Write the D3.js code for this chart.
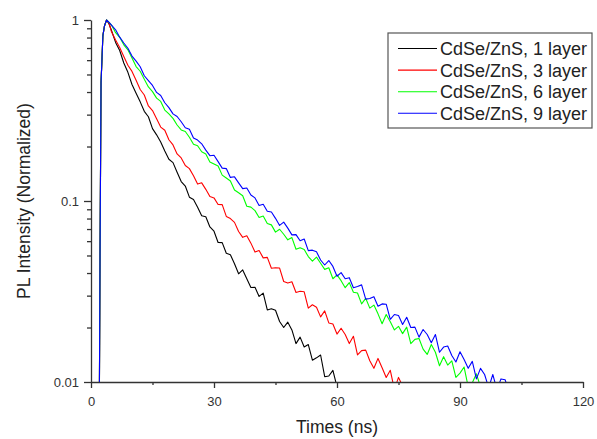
<!DOCTYPE html>
<html><head><meta charset="utf-8">
<script src="https://cdn.jsdelivr.net/npm/d3@7"></script>
<style>
body{margin:0;background:#fff}
svg{display:block}
text{font-family:Arial,"Liberation Sans",sans-serif}
</style>
</head><body>
<svg id="chart" width="597" height="439"></svg>
<script>
// ---- data ----
const times = [1.5, 2.0, 2.2, 2.45, 2.9, 3.3, 3.8, 4.4,
  5,6,7,8,9,10,11,12,13,14,15,16,17,18,19,20,21,22,23,24,25,26,27,28,29,30,
  31,32,33,34,35,36,37,38,39,40,41,42,43,44,45,46,47,48,49,50,51,52,53,54,55,
  56,57,58,59,60,61,62,63,64,65,66,67,68,69,70,71,72,73,74,75,76,77,78,79,80,
  81,82,83,84,85,86,87,88,89,90,91,92,93,94,95,96,97,98,99,100,101,102];

const seriesNames = ["CdSe/ZnS, 1 layer", "CdSe/ZnS, 3 layer", "CdSe/ZnS, 6 layer", "CdSe/ZnS, 9 layer"];
const seriesColors = ["#000000", "#ff0000", "#00ff00", "#0000ff"];

const layer1 = [0.002, 0.005, 0.05, 0.45, 0.82, 0.93, 1.0, 0.95,
  0.875, 0.752, 0.678, 0.579, 0.514, 0.440, 0.394, 0.353, 0.313, 0.292,
  0.251, 0.232, 0.212, 0.189, 0.170, 0.163, 0.144, 0.128, 0.121, 0.105,
  0.102, 0.0923, 0.0828, 0.0818, 0.0719, 0.0681, 0.0590, 0.0589, 0.0514, 0.0505,
  0.0450, 0.0396, 0.0416, 0.0372, 0.0333, 0.0334, 0.0297, 0.0310, 0.0250, 0.0254,
  0.0249, 0.0216, 0.0200, 0.0214, 0.0194, 0.0163, 0.0177, 0.0156, 0.0161, 0.0132,
  0.0136, 0.0141, 0.0107, 0.0108, 0.0116, 0.0094, 0.0095];

const layer3 = [0.002, 0.005, 0.05, 0.45, 0.82, 0.93, 1.0, 0.96,
  0.861, 0.776, 0.705, 0.628, 0.562, 0.520, 0.465, 0.413, 0.385, 0.335,
  0.316, 0.285, 0.256, 0.246, 0.218, 0.204, 0.182, 0.173, 0.157, 0.151,
  0.138, 0.124, 0.126, 0.116, 0.106, 0.104, 0.0957, 0.0955, 0.0822, 0.080,
  0.0762, 0.0678, 0.0630, 0.0643, 0.0585, 0.0522, 0.0533, 0.0485, 0.0488, 0.0425,
  0.0428, 0.0426, 0.0359, 0.0352, 0.0358, 0.0312, 0.0317, 0.0315, 0.0256, 0.0267,
  0.0259, 0.0229, 0.0247, 0.0212, 0.0209, 0.0184, 0.0198, 0.0183, 0.0163, 0.0179,
  0.0141, 0.0149, 0.0150, 0.0131, 0.0119, 0.0135, 0.0120, 0.0106, 0.0116, 0.0091,
  0.0106, 0.0095];

const layer6 = [0.002, 0.005, 0.05, 0.45, 0.82, 0.93, 1.0, 0.97,
  0.938, 0.851, 0.802, 0.729, 0.684, 0.617, 0.553, 0.521, 0.470, 0.427,
  0.402, 0.370, 0.355, 0.318, 0.303, 0.286, 0.263, 0.247, 0.242, 0.225,
  0.206, 0.202, 0.187, 0.182, 0.164, 0.160, 0.156, 0.139, 0.134, 0.129,
  0.115, 0.111, 0.107, 0.0935, 0.0925, 0.0885, 0.0811, 0.0826, 0.0752, 0.0738,
  0.0673, 0.0698, 0.0655, 0.0610, 0.0628, 0.0541, 0.0552, 0.0540, 0.0493, 0.0465,
  0.0490, 0.0453, 0.0419, 0.0428, 0.0372, 0.0391, 0.0363, 0.0332, 0.0354, 0.0313,
  0.0310, 0.0270, 0.0290, 0.0256, 0.0266, 0.0238, 0.0210, 0.0236, 0.0215, 0.0194,
  0.0203, 0.0185, 0.0201, 0.0163, 0.0172, 0.0174, 0.0152, 0.0142, 0.0161, 0.0146,
  0.0123, 0.0138, 0.0124, 0.0131, 0.0106, 0.0112, 0.0121, 0.0094, 0.0099, 0.0111,
  0.0094, 0.0098];

const layer9 = [0.002, 0.005, 0.05, 0.45, 0.82, 0.93, 1.0, 0.97,
  0.936, 0.883, 0.804, 0.746, 0.698, 0.632, 0.593, 0.552, 0.492, 0.463,
  0.435, 0.398, 0.383, 0.349, 0.328, 0.303, 0.293, 0.274, 0.254, 0.249,
  0.223, 0.217, 0.207, 0.191, 0.178, 0.179, 0.165, 0.152, 0.151, 0.135,
  0.136, 0.126, 0.117, 0.118, 0.108, 0.104, 0.0944, 0.0959, 0.0877, 0.0869,
  0.0802, 0.0733, 0.0764, 0.0708, 0.0650, 0.0652, 0.0603, 0.0617, 0.0532, 0.0535,
  0.0524, 0.0472, 0.0443, 0.0469, 0.0435, 0.0384, 0.0402, 0.0372, 0.0377, 0.0332,
  0.0337, 0.0344, 0.0287, 0.0289, 0.0296, 0.0262, 0.0270, 0.0269, 0.0222, 0.0236,
  0.0233, 0.0208, 0.0228, 0.0200, 0.0201, 0.0177, 0.0195, 0.0183, 0.0165, 0.0183,
  0.0146, 0.0156, 0.0158, 0.0140, 0.0129, 0.0147, 0.0133, 0.0119, 0.0130, 0.0104,
  0.0119, 0.0110, 0.0093, 0.0110, 0.0091, 0.0104, 0.0103, 0.0088];

const xMajorTicks = [0, 30, 60, 90, 120];
const xMinorTicks = [15, 45, 75, 105];
const yMajorTicks = [1, 0.1, 0.01];
const yTickLabels = ["1", "0.1", "0.01"];
const yMinorTicks = [0.02,0.03,0.04,0.05,0.06,0.07,0.08,0.09,0.2,0.3,0.4,0.5,0.6,0.7,0.8,0.9];
const xTitle = "Times (ns)";
const yTitle = "PL Intensity (Normalized)";

// ---- layout ----
const margin = {left: 91, right: 14, top: 20, bottom: 57};
const W = 597, H = 439;
const svg = d3.select("#chart");
const x = d3.scaleLinear().domain([0, 120]).range([margin.left, W - margin.right]);
const y = d3.scaleLog().domain([0.01, 1]).range([H - margin.bottom, margin.top]);
const axisColor = "#333";

svg.append("defs").append("clipPath").attr("id", "plotClip")
  .append("rect").attr("x", x(0)).attr("y", margin.top - 6)
  .attr("width", x(120) - x(0)).attr("height", y(0.01) - margin.top + 6);

// series
const allSeries = [layer1, layer3, layer6, layer9];
const line = d3.line().x(d => x(d[0])).y(d => y(d[1]));
const gLines = svg.append("g").attr("clip-path", "url(#plotClip)");
allSeries.forEach((vals, i) => {
  const pts = vals.map((v, j) => [times[j], v]);
  gLines.append("path").datum(pts)
    .attr("d", line).attr("fill", "none")
    .attr("stroke", seriesColors[i]).attr("stroke-width", 1.1)
    .attr("stroke-linejoin", "round");
});

// axes
function styleAxis(g) {
  g.selectAll("path.domain").attr("stroke", axisColor).attr("stroke-width", 1.3);
  g.selectAll(".tick line").attr("stroke", axisColor).attr("stroke-width", 1.3);
  g.selectAll(".tick text").attr("fill", axisColor).style("font-size", "13px")
    .style("font-family", "Arial, 'Liberation Sans', sans-serif");
}
const gx = svg.append("g").attr("transform", `translate(0,${y(0.01)})`)
  .call(d3.axisBottom(x).tickValues(xMajorTicks).tickSize(6).tickSizeOuter(0).tickPadding(9).tickFormat(d3.format("d")));
styleAxis(gx);
const gxm = svg.append("g").attr("transform", `translate(0,${y(0.01)})`)
  .call(d3.axisBottom(x).tickValues(xMinorTicks).tickSize(3).tickSizeOuter(0).tickFormat(""));
gxm.select("path.domain").remove();
styleAxis(gxm);

const gy = svg.append("g").attr("transform", `translate(${x(0)},0)`)
  .call(d3.axisLeft(y).tickValues(yMajorTicks).tickSize(7).tickSizeOuter(0).tickPadding(5)
    .tickFormat((d, i) => yTickLabels[i]));
styleAxis(gy);
const gym = svg.append("g").attr("transform", `translate(${x(0)},0)`)
  .call(d3.axisLeft(y).tickValues(yMinorTicks).tickSize(4).tickSizeOuter(0).tickFormat(""));
gym.select("path.domain").remove();
styleAxis(gym);

// titles
svg.append("text").attr("x", (x(0) + x(120)) / 2).attr("y", 433)
  .attr("text-anchor", "middle").attr("fill", "#222").style("font-size", "17.5px").text(xTitle);
svg.append("text").attr("transform", `translate(30,${(y(1) + y(0.01)) / 2}) rotate(-90)`)
  .attr("text-anchor", "middle").attr("fill", "#222").style("font-size", "17.5px").text(yTitle);

// legend
const leg = svg.append("g");
leg.append("rect").attr("x", 388).attr("y", 33).attr("width", 204).attr("height", 95)
  .attr("fill", "#fff").attr("stroke", "#555").attr("stroke-width", 1.2);
seriesNames.forEach((name, i) => {
  const ly = 48.5 + i * 21.6;
  leg.append("line").attr("x1", 398).attr("x2", 437).attr("y1", ly).attr("y2", ly)
    .attr("stroke", seriesColors[i]).attr("stroke-width", 1.1);
  leg.append("text").attr("x", 440).attr("y", ly).attr("dy", "0.36em")
    .attr("fill", "#222").style("font-size", "18px").text(name);
});
</script>
</body></html>
